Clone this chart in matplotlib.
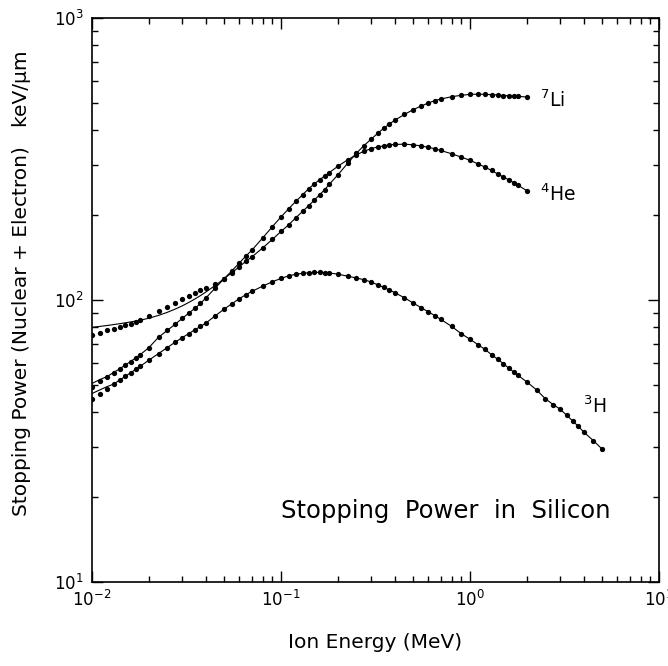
import matplotlib
matplotlib.use("Agg")
import matplotlib.pyplot as plt
from matplotlib.ticker import LogLocator, NullFormatter

plt.rcParams['font.family'] = ['DejaVu Sans']
plt.rcParams['mathtext.fontset'] = 'dejavusans'

# Ion energies (MeV)
energy = [0.010, 0.011, 0.012, 0.013, 0.014, 0.015, 0.016, 0.017, 0.018, 0.020,
          0.0225, 0.025, 0.0275, 0.030, 0.0325, 0.035, 0.0375, 0.040, 0.045, 0.050,
          0.055, 0.060, 0.065, 0.070, 0.080, 0.090, 0.100, 0.110, 0.120, 0.130,
          0.140, 0.150, 0.160, 0.170, 0.180, 0.200, 0.225, 0.250, 0.275, 0.300,
          0.325, 0.350, 0.375, 0.400, 0.450, 0.500, 0.550, 0.600, 0.650, 0.700,
          0.800, 0.900, 1.000, 1.100, 1.200, 1.300, 1.400, 1.500, 1.600, 1.700,
          1.800, 2.000, 2.250, 2.500, 2.750, 3.000, 3.250, 3.500, 3.750, 4.000,
          4.500, 5.000]

# Stopping power (keV/um), tabulated points
h3_pts = [44.5, 46.5, 48.5, 50.3, 52.0, 53.6, 55.2, 56.7, 58.2, 61.2,
          64.6, 67.8, 70.8, 73.5, 76.0, 78.4, 80.6, 82.8, 88.0, 92.8,
          97.0, 101.0, 104.3, 107.2, 112.0, 116.0, 119.3, 121.8, 123.4, 124.3,
          124.9, 125.2, 125.3, 125.1, 124.7, 123.5, 121.5, 119.7, 118.0, 115.8,
          113.2, 110.8, 108.5, 106.2, 101.8, 97.6, 94.0, 90.9, 88.1, 85.4,
          80.6, 75.9, 72.6, 69.5, 66.8, 64.0, 61.7, 59.5, 57.4, 55.6,
          54.0, 51.2, 48.0, 44.7, 42.6, 41.0, 39.0, 37.2, 35.6, 34.0,
          31.7, 29.6]

he4_pts = [49.0, 51.5, 53.5, 55.3, 57.0, 58.8, 60.5, 62.3, 64.0, 67.8,
           73.8, 78.0, 82.0, 86.0, 89.8, 93.4, 97.2, 101.6, 110.5, 119.0,
           127.0, 135.0, 143.0, 150.0, 166.0, 182.0, 197.0, 211.0, 224.0, 236.0,
           248.0, 258.0, 267.0, 275.0, 283.0, 298.0, 314.0, 327.0, 337.0, 344.0,
           349.0, 352.0, 355.0, 356.0, 357.0, 355.0, 352.0, 348.0, 344.0, 339.0,
           330.0, 321.0, 313.0, 304.0, 296.0, 288.0, 280.0, 273.0, 267.0, 261.0,
           255.0, 244.0]

li7_pts = [75.0, 76.6, 78.0, 79.2, 80.3, 81.4, 82.4, 83.5, 84.6, 87.5,
           91.5, 94.8, 97.8, 100.8, 103.4, 105.8, 108.2, 110.2, 113.5, 119.0,
           125.0, 131.0, 137.0, 142.0, 153.0, 164.0, 175.0, 185.0, 196.0, 206.0,
           216.0, 226.0, 236.0, 246.0, 257.0, 278.0, 305.0, 331.0, 353.0, 372.0,
           390.0, 407.0, 421.0, 434.0, 455.0, 473.0, 487.0, 499.0, 509.0, 516.0,
           526.0, 532.0, 536.0, 537.0, 536.0, 535.0, 533.0, 531.0, 530.0, 528.0,
           527.0, 525.0]

# Fitted curves differ from tabulated points only at the lowest energies
h3_fit_low = [46.6, 48.0, 49.3]
he4_fit_low = [50.6, 52.2]
li7_fit_low = [80.0, 80.6, 81.2, 81.8, 82.4, 83.0, 83.6, 84.2, 84.8, 86.2,
               88.2, 90.4, 92.8, 95.3, 98.0, 100.8, 103.7, 106.7, 112.8]

h3_fit = h3_fit_low + h3_pts[len(h3_fit_low):]
he4_fit = he4_fit_low + he4_pts[len(he4_fit_low):]
li7_fit = li7_fit_low + li7_pts[len(li7_fit_low):]

series = [
    (h3_pts, h3_fit),
    (he4_pts, he4_fit),
    (li7_pts, li7_fit),
]

W, H = 668, 666
fig = plt.figure(figsize=(W / 100, H / 100), dpi=100)
ax = fig.add_axes([92 / W, (H - 582) / H, (659 - 92) / W, (582 - 18) / H])

for pts, fit in series:
    n = len(pts)
    ax.plot(energy[:n], fit, '-', color='black', lw=0.8)
    ax.plot(energy[:n], pts, 'o', color='black', ms=3.8, mew=0)

ax.set_xscale('log')
ax.set_yscale('log')
ax.set_xlim(1e-2, 1e1)
ax.set_ylim(10, 1000)

for axis in (ax.xaxis, ax.yaxis):
    axis.set_major_locator(LogLocator(base=10, numticks=10))
    axis.set_minor_locator(LogLocator(base=10, subs=range(2, 10), numticks=20))
    axis.set_minor_formatter(NullFormatter())

ax.tick_params(which='both', direction='in', top=True, right=True, width=1.0)
ax.tick_params(which='major', length=8, labelsize=12, pad=6)
ax.tick_params(which='minor', length=4.5)
for sp in ax.spines.values():
    sp.set_linewidth(1.2)

# curve labels
ax.text(2.35, 510, r'$^{7}$Li', fontsize=13.5, ha='left', va='center')
ax.text(2.35, 237, r'$^{4}$He', fontsize=13.5, ha='left', va='center')
ax.text(3.95, 42, r'$^{3}$H', fontsize=13.5, ha='left', va='center')

fig.text(446 / W, 1 - 511 / H, 'Stopping  Power  in  Silicon', fontsize=17.5,
         ha='center', va='center')
fig.text(375 / W, 1 - 643 / H, 'Ion Energy (MeV)', fontsize=14.5,
         ha='center', va='center')
fig.text(22 / W, 1 - 283 / H, 'Stopping Power (Nuclear + Electron)   keV/\u03bcm',
         fontsize=14.5, ha='center', va='center', rotation=90)

fig.savefig('out.png', dpi=100)
